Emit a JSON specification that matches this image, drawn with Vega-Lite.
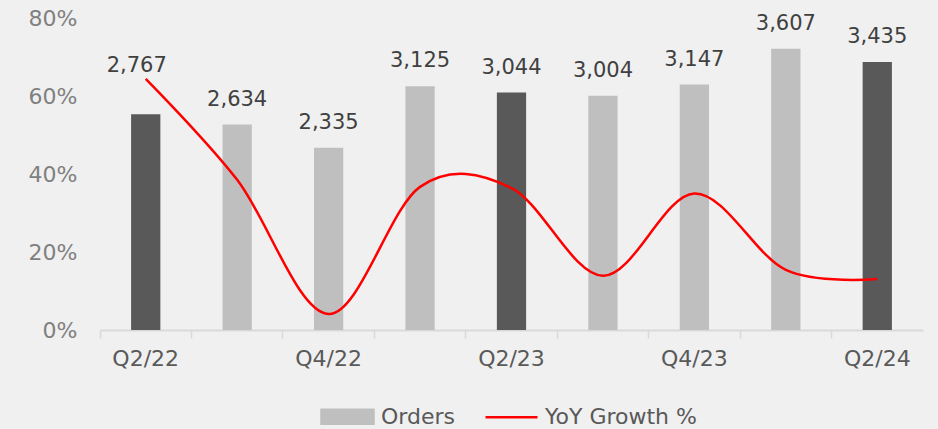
{
  "$schema": "https://vega.github.io/schema/vega-lite/v6.json",
  "width": 823,
  "height": 312,
  "autosize": {"type": "none"},
  "padding": {"left": 100, "top": 18, "right": 15, "bottom": 99},
  "background": "#f0f0f0",
  "config": {
    "view": {"stroke": null},
    "font": "DejaVu Sans"
  },
  "data": {
    "values": [
      {"quarter": "Q2/22", "orders": 2767, "growth": 64.4},
      {"quarter": "Q3/22", "orders": 2634, "growth": 38.5},
      {"quarter": "Q4/22", "orders": 2335, "growth": 4.1},
      {"quarter": "Q1/23", "orders": 3125, "growth": 36.7},
      {"quarter": "Q2/23", "orders": 3044, "growth": 36.4},
      {"quarter": "Q3/23", "orders": 3004, "growth": 13.9},
      {"quarter": "Q4/23", "orders": 3147, "growth": 35.0},
      {"quarter": "Q1/24", "orders": 3607, "growth": 15.4},
      {"quarter": "Q2/24", "orders": 3435, "growth": 13.1}
    ]
  },
  "encoding": {
    "x": {
      "field": "quarter",
      "type": "nominal",
      "sort": null,
      "scale": {"paddingInner": 0.68, "paddingOuter": 0.34},
      "axis": {
        "title": null,
        "bandPosition": -1.0625,
        "labelOffset": 0,
        "labelAngle": 0,
        "labelOverlap": false,
        "labelExpr": "test(/^Q[24]\\//, datum.value) ? datum.label : ''",
        "tickSize": 8,
        "tickWidth": 1.5,
        "tickColor": "#d9d9d9",
        "domainColor": "#d9d9d9",
        "domainWidth": 2,
        "labelFontSize": 22,
        "labelColor": "#595959",
        "labelPadding": 10,
        "grid": false
      }
    }
  },
  "layer": [
    {
      "mark": {"type": "bar"},
      "encoding": {
        "y": {"field": "orders", "type": "quantitative", "scale": {"domain": [0, 4000], "nice": false}, "axis": null},
        "color": {"condition": {"test": "test(/^Q2/, datum.quarter)", "value": "#595959"}, "value": "#bfbfbf"}
      }
    },
    {
      "mark": {"type": "line", "interpolate": "cardinal", "strokeWidth": 2.5},
      "encoding": {
        "y": {
          "field": "growth",
          "type": "quantitative",
          "scale": {"domain": [0, 80], "nice": false},
          "axis": {
            "orient": "left",
            "title": null,
            "values": [0, 20, 40, 60, 80],
            "labelExpr": "datum.value + '%'",
            "domain": false,
            "ticks": false,
            "grid": false,
            "labelFontSize": 22,
            "labelColor": "#808080",
            "labelPadding": 23
          }
        },
        "color": {
          "datum": "YoY Growth %",
          "scale": {"domain": ["Orders", "YoY Growth %"], "range": ["#bfbfbf", "#ff0000"]},
          "legend": {
            "title": null,
            "orient": "none",
            "direction": "horizontal",
            "legendX": 220,
            "legendY": 371,
            "symbolSize": 2704,
            "labelFontSize": 22,
            "labelColor": "#595959",
            "labelOffset": 6,
            "columnPadding": 25,
            "encode": {
              "symbols": {
                "update": {
                  "shape": {"signal": "datum.value === 'Orders' ? 'M-1,-0.27H1V0.27H-1Z' : 'M-1,0H1'"},
                  "fill": {"signal": "datum.value === 'Orders' ? '#bfbfbf' : 'transparent'"},
                  "stroke": {"signal": "datum.value === 'Orders' ? 'transparent' : '#ff0000'"},
                  "strokeWidth": {"value": 2.5},
                  "opacity": {"value": 1}
                }
              }
            }
          }
        }
      }
    },
    {
      "transform": [{"filter": "datum.quarter !== 'Q2/22'"}],
      "mark": {"type": "text", "baseline": "alphabetic", "dy": -19, "fontSize": 21, "color": "#404040"},
      "encoding": {
        "y": {"field": "orders", "type": "quantitative", "scale": {"domain": [0, 4000], "nice": false}, "axis": null},
        "text": {"field": "orders", "type": "quantitative", "format": ","}
      }
    },
    {
      "transform": [{"filter": "datum.quarter === 'Q2/22'"}],
      "mark": {"type": "text", "baseline": "alphabetic", "dy": -42, "dx": -9, "fontSize": 21, "color": "#404040"},
      "encoding": {
        "y": {"field": "orders", "type": "quantitative", "scale": {"domain": [0, 4000], "nice": false}, "axis": null},
        "text": {"field": "orders", "type": "quantitative", "format": ","}
      }
    }
  ],
  "resolve": {"scale": {"y": "independent"}}
}
